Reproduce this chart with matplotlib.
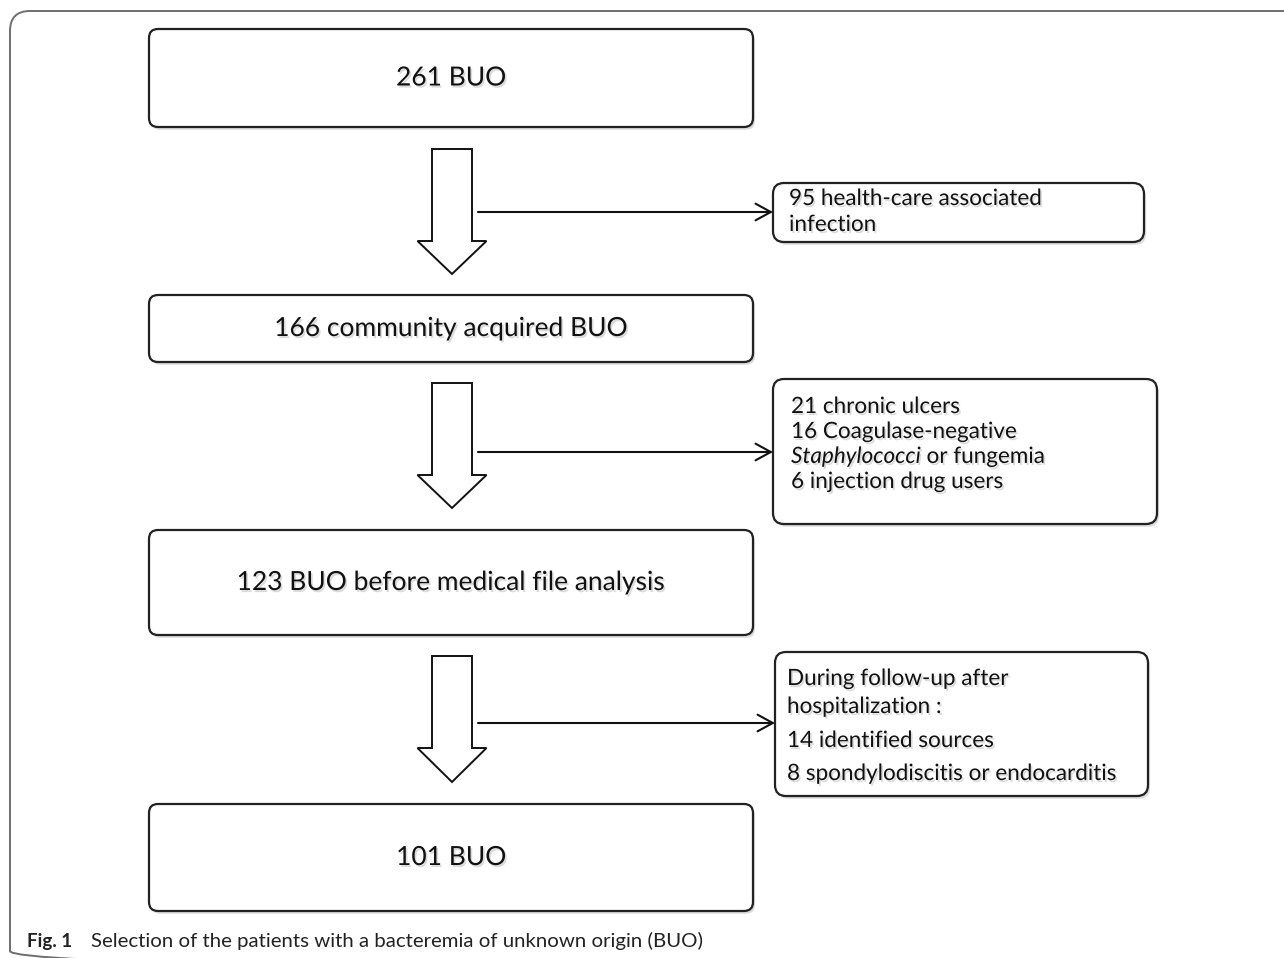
import matplotlib.pyplot as plt
from matplotlib.patches import FancyBboxPatch, Polygon, FancyArrowPatch
import matplotlib.patheffects as pe

plt.rcParams['font.family'] = ['Lato', 'DejaVu Sans']
plt.rcParams['mathtext.fontset'] = 'custom'
plt.rcParams['mathtext.it'] = 'Lato:italic'
plt.rcParams['mathtext.rm'] = 'Lato'

# main flow boxes (pixel layout, y downwards)
main_labels = ["261 BUO", "166 community acquired BUO",
               "123 BUO before medical file analysis", "101 BUO"]
main_top = [29, 295, 530, 804]
main_bottom = [127, 362, 635, 911]
main_left, main_right = 149, 753

# exclusion boxes
side_lines = [["95 health-care associated", "infection"],
              ["21 chronic ulcers", "16 Coagulase-negative",
               r"$\it{Staphylococci}$ or fungemia", "6 injection drug users"],
              ["During follow-up after", "hospitalization :",
               "14 identified sources", "8 spondylodiscitis or endocarditis"]]
side_left = [773, 773, 775]
side_right = [1144, 1157, 1148]
side_top = [183, 379, 652]
side_bottom = [242, 524, 796]
side_text_x = [789, 791, 787]
side_line_y = [[199, 225], [407, 432, 457, 482], [679, 707, 741, 774]]

# block arrows between main boxes
arrow_x = 452
shaft_hw, head_hw = 20, 34.5
arrow_top = [149, 383, 656]
arrow_head = [241, 475, 748]
arrow_tip = [274, 508, 782]
branch_y = [212, 452, 723]
branch_x0 = 478

caption_bold = "Fig. 1"
caption_text = "Selection of the patients with a bacteremia of unknown origin (BUO)"

fig = plt.figure(figsize=(12.84, 9.58), dpi=100)
ax = fig.add_axes([0, 0, 1, 1])
ax.set_xlim(0, 1284)
ax.set_ylim(958, 0)
ax.axis('off')

shadow = [pe.SimplePatchShadow(offset=(1.5, -2), shadow_rgbFace='#999999', alpha=0.35), pe.Normal()]
tshadow = [pe.withSimplePatchShadow(offset=(1.2, -1.5), shadow_rgbFace='#888888', alpha=0.3)]

# outer frame
frame = FancyBboxPatch((10, 11), 1320, 960, boxstyle="round,pad=0,rounding_size=20",
                       fc='none', ec='#6e6e6e', lw=1.4)
ax.add_patch(frame)

for lab, t, b in zip(main_labels, main_top, main_bottom):
    box = FancyBboxPatch((main_left, t), main_right - main_left, b - t,
                         boxstyle="round,pad=0,rounding_size=9",
                         fc='white', ec='#222222', lw=1.6, path_effects=shadow)
    ax.add_patch(box)
    ax.text((main_left + main_right) / 2, (t + b) / 2, lab, ha='center', va='center',
            fontsize=19, color='#111111', path_effects=tshadow)

for i in range(3):
    l, r, t, b = side_left[i], side_right[i], side_top[i], side_bottom[i]
    box = FancyBboxPatch((l, t), r - l, b - t, boxstyle="round,pad=0,rounding_size=11",
                         fc='white', ec='#222222', lw=1.6, path_effects=shadow)
    ax.add_patch(box)
    for line, y in zip(side_lines[i], side_line_y[i]):
        ax.text(side_text_x[i], y, line, ha='left', va='center', fontsize=16.2,
                color='#111111', path_effects=tshadow)

for i in range(3):
    pts = [(arrow_x - shaft_hw, arrow_top[i]), (arrow_x + shaft_hw, arrow_top[i]),
           (arrow_x + shaft_hw, arrow_head[i]), (arrow_x + head_hw, arrow_head[i]),
           (arrow_x, arrow_tip[i]), (arrow_x - head_hw, arrow_head[i]),
           (arrow_x - shaft_hw, arrow_head[i])]
    ax.add_patch(Polygon(pts, closed=True, fc='white', ec='#111111', lw=1.4))
    arr = FancyArrowPatch((branch_x0, branch_y[i]), (side_left[i], branch_y[i]),
                          arrowstyle='->,head_length=0.55,head_width=0.3',
                          mutation_scale=20, shrinkA=0, shrinkB=0, color='#111111', lw=1.5)
    ax.add_patch(arr)

ax.text(27, 941, caption_bold, ha='left', va='center', fontsize=13.5, fontweight='bold',
        color='#222222')
ax.text(91, 941, caption_text, ha='left', va='center', fontsize=14.7,
        color='#222222')

fig.savefig('out.png', dpi=100)
